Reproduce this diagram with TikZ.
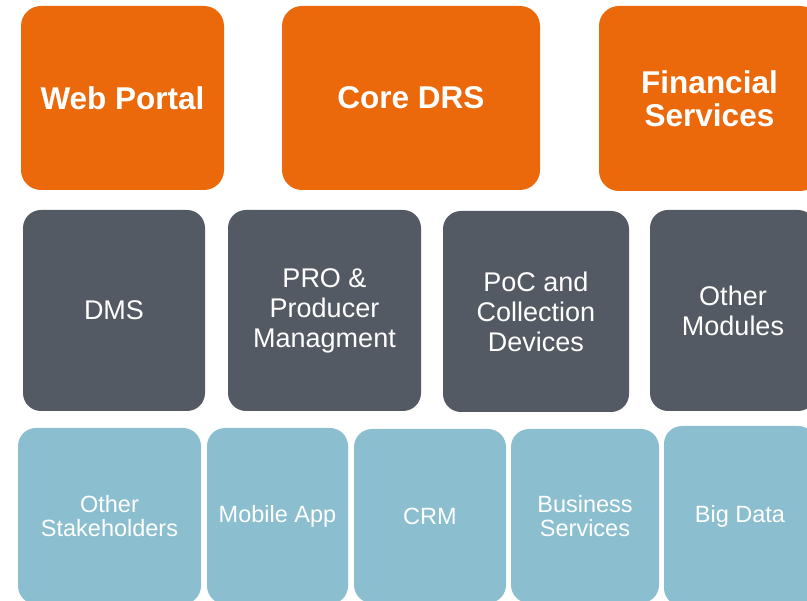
\documentclass[tikz,border=0pt]{standalone}
\usepackage{fontspec}
\setmainfont{Liberation Sans}
\usepackage{tikz}
\definecolor{drsorange}{HTML}{EB690B}
\definecolor{drsgrey}{HTML}{545A63}
\definecolor{drsblue}{HTML}{8BBFD0}
\tikzstyle{blk}=[rectangle,align=center,text=white,inner sep=0pt]
\tikzstyle{tier}=[blk,fill=drsorange,rounded corners=20pt,font=\fontsize{31.5}{32.5}\selectfont\bfseries]
\tikzstyle{mods}=[blk,fill=drsgrey,rounded corners=18pt,font=\fontsize{27}{30}\selectfont]
\tikzstyle{svcs}=[blk,fill=drsblue,rounded corners=18pt,font=\fontsize{23.5}{24.5}\selectfont]
\begin{document}
\begin{tikzpicture}[x=1pt,y=-1pt]
	\useasboundingbox (0,0) rectangle (807,601);
	% top row
	\node[tier,minimum width=203pt,minimum height=184pt] (webportal) at (122.5,98) {Web Portal};
	\node[tier,minimum width=258pt,minimum height=184pt] (coredrs)   at (411,98)   {Core DRS};
	\node[tier,minimum width=221pt,minimum height=185pt] (finserv)   at (709.5,98.5) {Financial\\Services};
	% middle row
	\node[mods,minimum width=182pt,minimum height=201pt] (dms)      at (114,310.5)   {DMS};
	\node[mods,minimum width=193pt,minimum height=201pt] (proman)   at (324.5,310.5) {PRO \&\\Producer\\Managment};
	\node[mods,minimum width=186pt,minimum height=201pt] (poc)      at (536,311.5)   {PoC and\\Collection\\Devices};
	\node[mods,minimum width=166pt,minimum height=201pt] (othermod) at (733,310.5)   {Other\\Modules};
	% bottom row
	\node[svcs,minimum width=183pt,minimum height=176pt] (stake)    at (109.5,516) {Other\\Stakeholders};
	\node[svcs,minimum width=141pt,minimum height=176pt] (mobile)   at (277.5,516) {Mobile App};
	\node[svcs,minimum width=152pt,minimum height=174pt] (crm)      at (430,516)   {CRM};
	\node[svcs,minimum width=148pt,minimum height=174pt] (business) at (585,516)   {Business\\Services};
	\node[svcs,minimum width=152pt,minimum height=180pt] (bigdata)  at (740,516)   {Big Data};
\end{tikzpicture}
\end{document}
